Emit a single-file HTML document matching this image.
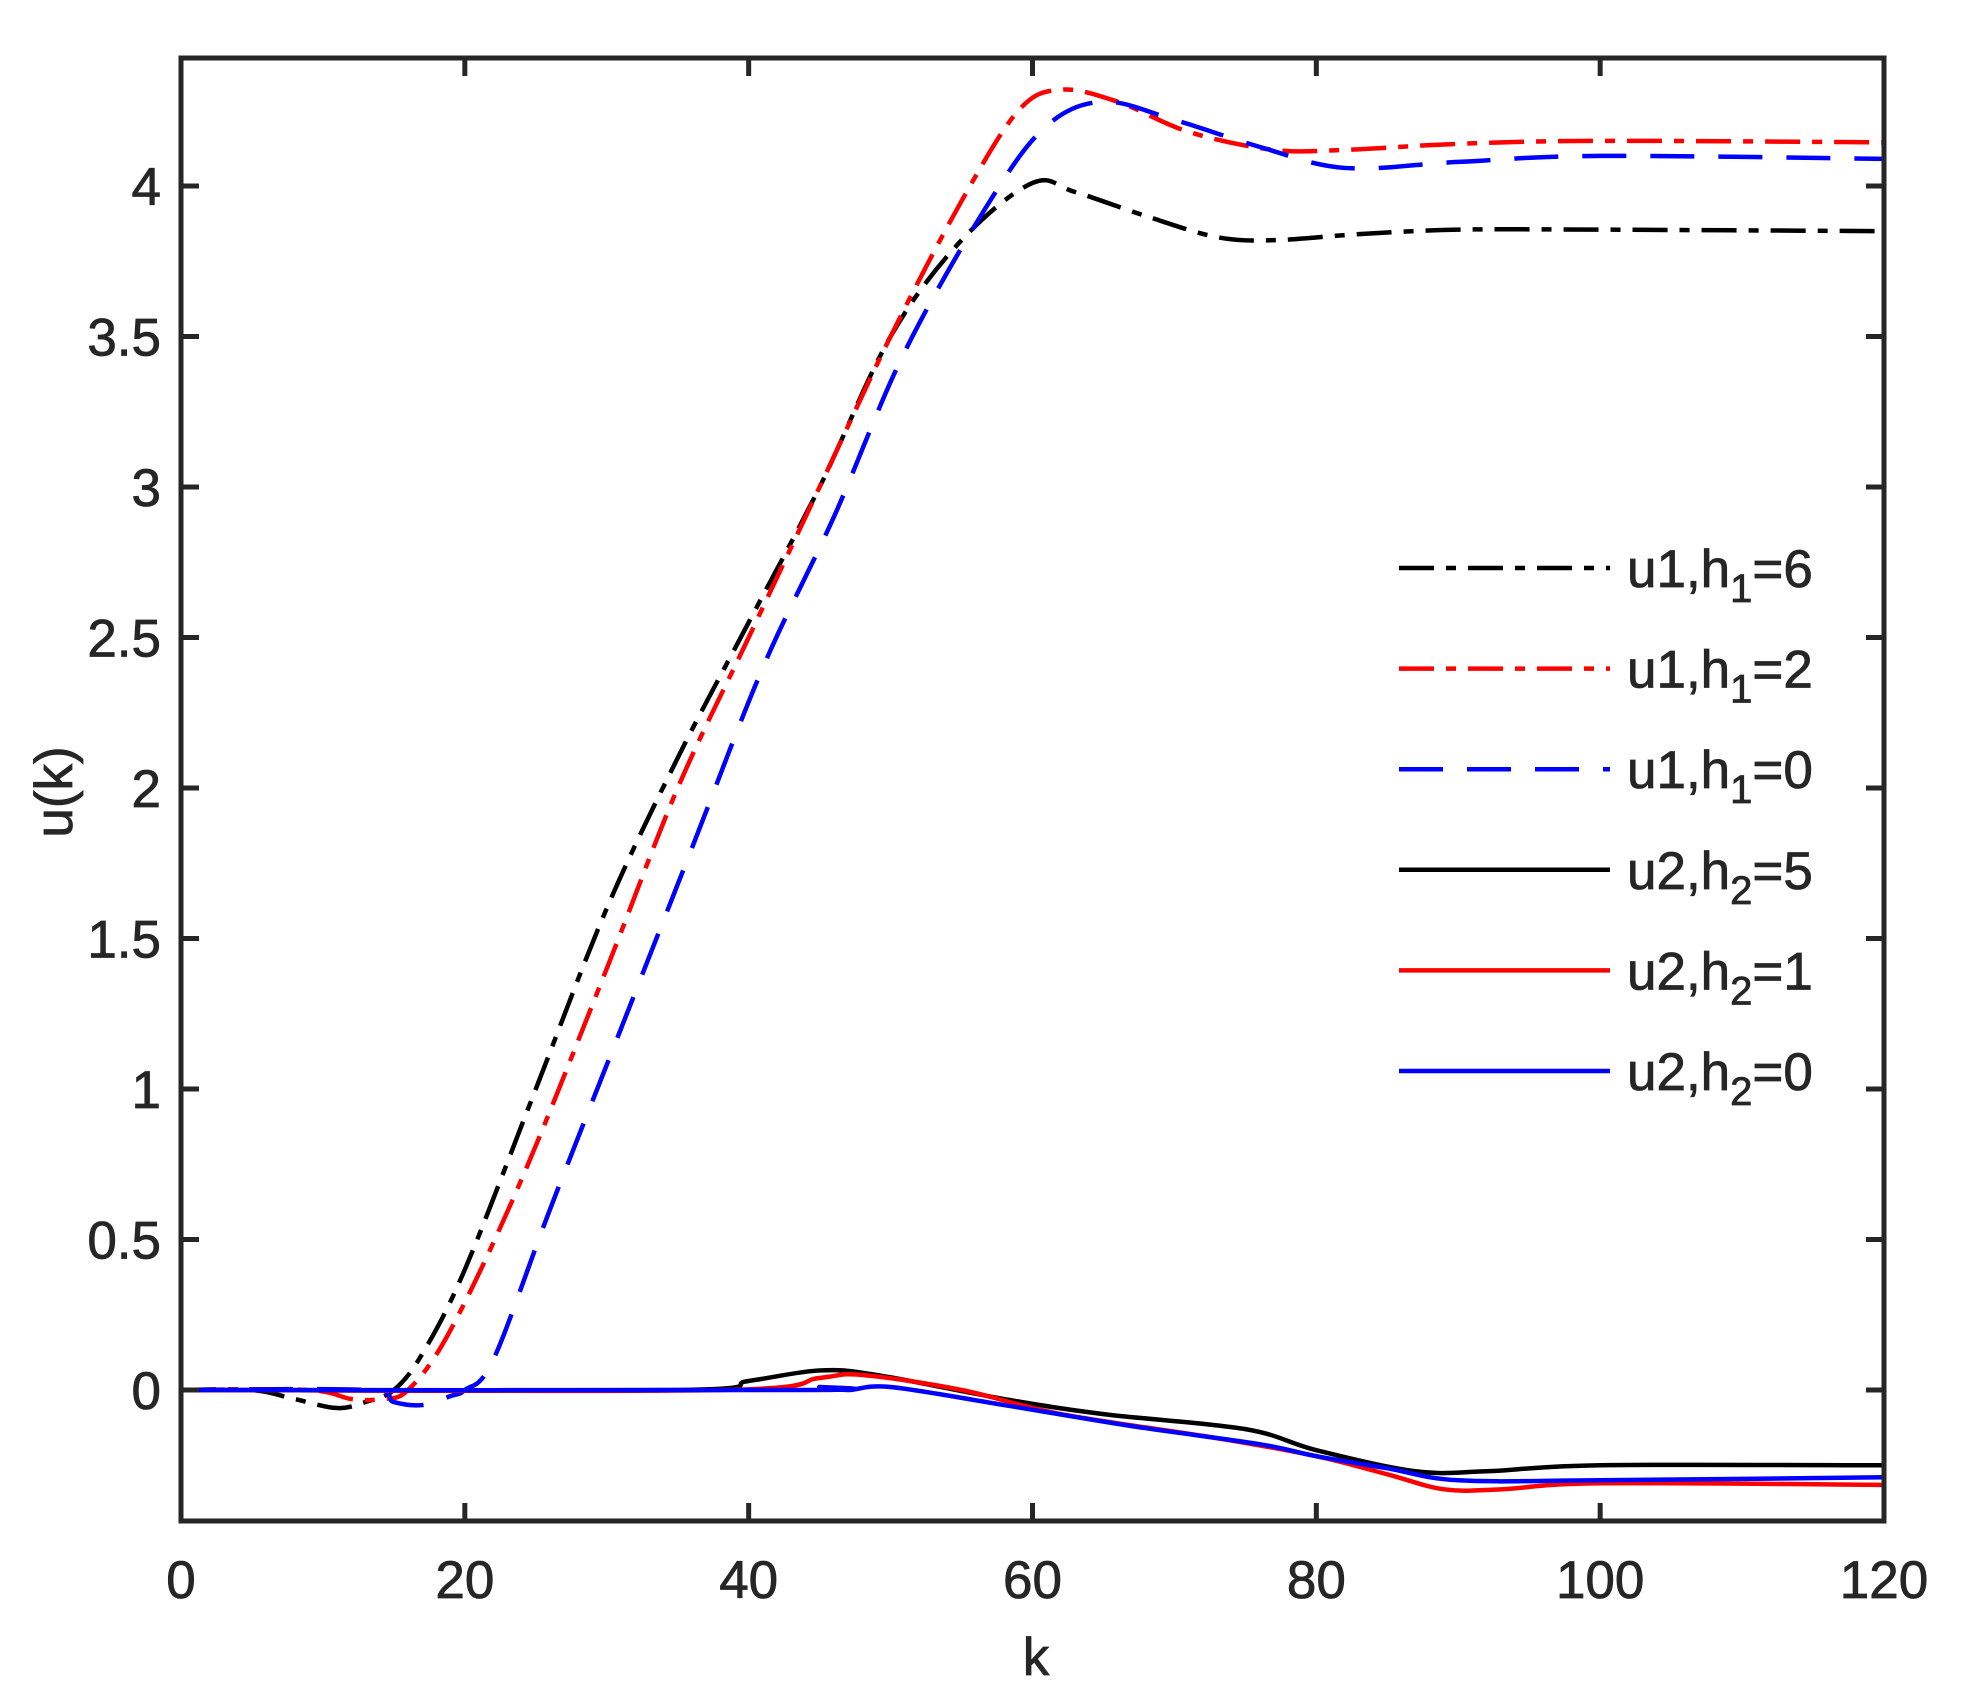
<!DOCTYPE html><html><head><style>body{margin:0;background:#fff}svg text{font-family:"Liberation Sans",sans-serif;fill:#262626;stroke:#262626;stroke-width:0.8}</style></head><body>
<svg id="s" width="1965" height="1697" xmlns="http://www.w3.org/2000/svg"></svg>
<script>
const L=181,R=1884,T=58,B=1521,y0=1390,py=301,px=(R-L)/120;
const X=k=>L+k*px,Y=v=>y0-v*py;
let h='<rect width="1965" height="1697" fill="#fff"/>';
function path(pts){const p=pts.map(a=>[X(a[0]),Y(a[1])]);let d='M'+p[0][0]+','+p[0][1];
for(let i=0;i<p.length-1;i++){const a=p[i-1]||p[i],b=p[i],c=p[i+1],e=p[i+2]||c;
d+=` C${b[0]+(c[0]-a[0])/6},${b[1]+(c[1]-a[1])/6} ${c[0]-(e[0]-b[0])/6},${c[1]-(e[1]-b[1])/6} ${c[0]},${c[1]}`;}return d;}
const DD='35 12 10 12',DA='44 24';
const S=[
[[[0,0],[5,0],[8,-0.03],[11,-0.06],[13,-0.04],[15,0],[17,0.12],[20,0.4],[25,1.0],[30,1.6],[35,2.1],[40,2.55],[45,3.0],[50,3.5],[55,3.82],[60,4.01],[63,3.98],[68,3.9],[73,3.83],[77,3.82],[83,3.84],[90,3.855],[100,3.855],[120,3.85]],'#000',DD],
[[[0,0],[9,0],[12,-0.03],[14,-0.03],[16,0],[19,0.2],[24,0.7],[30,1.4],[35,2.0],[40,2.5],[45,3.0],[50,3.5],[55,3.95],[59,4.25],[62,4.32],[66,4.28],[71,4.18],[77,4.12],[82,4.12],[90,4.14],[100,4.15],[120,4.145]],'#f00',DD],
[[[0,0],[13,0],[15,-0.04],[17,-0.05],[19,-0.02],[20,0],[22,0.1],[26,0.6],[31,1.2],[36,1.8],[41,2.4],[46,2.9],[51,3.45],[57,3.95],[61,4.2],[65,4.28],[70,4.22],[76,4.13],[82,4.06],[90,4.08],[100,4.1],[120,4.09]],'#00f',DA],
[[[0,0],[35,0],[40,0.03],[45,0.065],[49,0.05],[58,-0.03],[65,-0.08],[75,-0.13],[80,-0.2],[87,-0.27],[92,-0.27],[100,-0.25],[120,-0.25]],'#000',''],
[[[0,0],[38,0],[45,0.04],[48,0.05],[55,0],[62,-0.08],[73,-0.16],[80,-0.22],[85,-0.28],[89,-0.33],[93,-0.33],[100,-0.31],[120,-0.315]],'#f00',''],
[[[0,0],[44,0],[45,0.01],[47,0],[50,0.01],[58,-0.05],[67,-0.12],[76,-0.18],[80,-0.22],[85,-0.26],[90,-0.3],[100,-0.3],[120,-0.29]],'#00f','']];
h+='<defs><clipPath id="c"><rect x="'+L+'" y="'+T+'" width="'+(R-L)+'" height="'+(B-T)+'"/></clipPath></defs>';
h+='<g clip-path="url(#c)">';
S.forEach(s=>h+=`<path d="${path(s[0])}" fill="none" stroke="${s[1]}" stroke-width="4.5" ${s[2]?'stroke-dasharray="'+s[2]+'"':''}/>`);
h+='</g>';
h+=`<rect x="${L}" y="${T}" width="${R-L}" height="${B-T}" fill="none" stroke="#262626" stroke-width="5"/>`;
for(let k=0;k<=120;k+=20){const x=X(k);h+=`<path d="M${x},${B}v-18M${x},${T}v18" stroke="#262626" stroke-width="5"/><text x="${x}" y="1598" font-size="53" text-anchor="middle">${k}</text>`;}
for(let v=0;v<=4;v+=0.5){const y=Y(v);h+=`<path d="M${L},${y}h18M${R},${y}h-18" stroke="#262626" stroke-width="5"/><text x="${L-20}" y="${y+19}" font-size="53" text-anchor="end">${v}</text>`;}
h+=`<text x="1036" y="1675" font-size="53" text-anchor="middle">k</text>`;
h+=`<text transform="translate(72,792) rotate(-90)" font-size="53" text-anchor="middle">u(k)</text>`;
const lg=[['1','6','#000',DD],['1','2','#f00',DD],['1','0','#00f',DA],['2','5','#000',''],['2','1','#f00',''],['2','0','#00f','']];
lg.forEach((g,i)=>{const y=568+i*100.6;h+=`<path d="M1399,${y}H1610" stroke="${g[2]}" stroke-width="4.5" ${g[3]?'stroke-dasharray="'+g[3]+'"':''}/><text x="1627" y="${y+19}" font-size="53">u${g[0]},h<tspan font-size="40" dy="15">${g[0]}</tspan><tspan dy="-15">=${g[1]}</tspan></text>`;});
document.getElementById('s').innerHTML=h;
</script></body></html>
